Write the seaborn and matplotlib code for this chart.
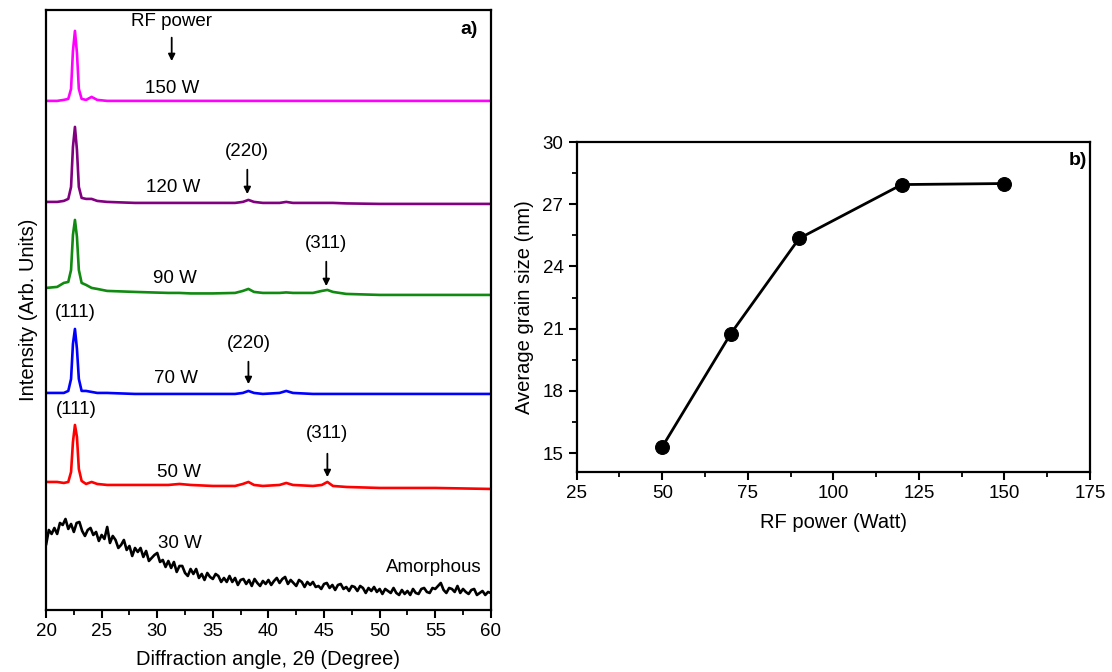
import numpy as np
import pandas as pd
import seaborn as sns
import matplotlib.pyplot as plt

# ---- panel a: XRD patterns (arb. units) ----
two_theta = [20, 21, 21.6, 22.0, 22.25, 22.42, 22.6, 22.78, 22.95, 23.2, 23.6, 24.1, 24.6,
             25.5, 28, 31, 32, 33, 35, 37, 37.7, 38.2, 38.7, 39.5, 41, 41.6, 42.2, 44,
             44.8, 45.3, 45.8, 47, 50, 55, 60]

int_150 = [0, 0, 1, 2, 12, 50, 70, 48, 12, 2, 1, 4, 1,
           0, 0, 0, 0, 0, 0, 0, 0, 0, 0, 0, 0, 0, 0, 0,
           0, 0, 0, 0, 0, 0, 0]
int_120 = [0, 0, 1, 3, 15, 55, 75, 52, 15, 4, 3, 3, 1,
           0, -1, -1, -1, -1, -1, -1, 0, 2, 0, -1, -1, 0, -1, -1,
           -1, -1, -1, -1.5, -2, -2, -2]
int_90 = [7, 8, 12, 13, 25, 60, 75, 58, 25, 12, 10, 7, 6,
          4, 3, 2, 2, 1.5, 1.5, 2, 4, 6, 3, 2, 2, 2.5, 2, 2,
          4, 5, 3, 1, 0, 0, 0]
int_70 = [1, 1, 1, 3, 15, 50, 65, 45, 15, 3, 3, 2, 1,
          1, 0, 0, 0, 0, 0, 0, 1, 3, 1, 0, 1, 3, 1, 0,
          0, 0, 0, 0, 0, 0, 0]
int_50 = [5, 5, 4, 5, 15, 45, 62, 50, 18, 6, 3, 5, 3,
          2, 2, 2, 3, 2, 1, 1, 3, 5, 2, 1, 2, 4, 2, 1,
          2, 5, 1, 0, -1, -1, -2]

# 30 W amorphous pattern, read every 0.25 degree from 20 to 60
two_theta_30 = [20 + 0.25 * i for i in range(161)]
int_30 = [63, 78, 74, 80, 74, 85, 83, 89, 79, 84, 76, 85, 86, 77, 72, 78,
          80, 73, 76, 67, 73, 69, 81, 65, 72, 68, 60, 63, 68, 58, 62, 52,
          60, 56, 60, 51, 57, 47, 50, 53, 55, 46, 48, 41, 47, 40, 46, 36,
          42, 42, 35, 32, 39, 34, 39, 30, 34, 28, 35, 31, 29, 34, 32, 26,
          30, 26, 32, 26, 30, 23, 28, 29, 24, 28, 22, 29, 25, 22, 27, 24,
          28, 23, 27, 30, 25, 29, 31, 24, 28, 25, 22, 28, 26, 21, 26, 23,
          26, 21, 22, 19, 24, 25, 20, 23, 18, 23, 24, 19, 21, 17, 22, 21,
          17, 22, 20, 15, 20, 17, 21, 16, 19, 14, 19, 17, 15, 20, 15, 13,
          18, 14, 17, 13, 19, 15, 14, 19, 20, 16, 15, 20, 19, 22, 25, 18,
          15, 20, 19, 16, 22, 15, 19, 16, 14, 18, 19, 13, 15, 17, 13, 16,
          15]

labels = ["150 W", "120 W", "90 W", "70 W", "50 W"]
colors = ["#ff00ff", "#800080", "#108a10", "#0000ff", "#ff0000"]
offsets = [507, 406, 313, 214, 121]

# ---- panel b: grain size ----
rf_power = [50, 70, 90, 120, 150]
grain_size = [15.3, 20.75, 25.35, 27.95, 28.0]

sns.set_style("ticks")
plt.rcParams["font.family"] = ["Liberation Sans", "DejaVu Sans"]
plt.rcParams["font.size"] = 13.5
plt.rcParams["text.color"] = "black"
plt.rcParams["axes.labelcolor"] = "black"
plt.rcParams["xtick.color"] = "black"
plt.rcParams["ytick.color"] = "black"

fig = plt.figure(figsize=(11.12, 6.72), dpi=100)
ax1 = fig.add_axes([0.0414, 0.0923, 0.400, 0.893])
ax2 = fig.add_axes([0.5186, 0.298, 0.4616, 0.4906])

# panel a
series = [int_150, int_120, int_90, int_70, int_50]
for vals, lab, col, off in zip(series, labels, colors, offsets):
    df = pd.DataFrame({"x": two_theta, "y": np.array(vals) + off})
    sns.lineplot(data=df, x="x", y="y", ax=ax1, color=col, lw=1.9,
                 sort=False, estimator=None)
df30 = pd.DataFrame({"x": two_theta_30, "y": int_30})
sns.lineplot(data=df30, x="x", y="y", ax=ax1, color="black", lw=1.9,
             sort=False, estimator=None)

ax1.set_xlim(20, 60)
ax1.set_ylim(-2, 598)
ax1.set_xticks(range(20, 61, 5))
ax1.set_xticks(np.arange(22.5, 60, 5), minor=True)
ax1.set_yticks([])
ax1.set_xlabel("Diffraction angle, 2θ (Degree)", fontsize=14.5, labelpad=7)
ax1.set_ylabel("Intensity (Arb. Units)", fontsize=14.5, labelpad=6)

txt = dict(ha="center", va="center", fontsize=13.5)
arrow = dict(arrowstyle="-|>", color="black", lw=1.3, mutation_scale=10)
ax1.text(31.3, 586, "RF power", **txt)
ax1.annotate("", xy=(31.3, 544), xytext=(31.3, 573), arrowprops=arrow)
ax1.text(58.0, 578, "a)", ha="center", va="center", fontsize=14, fontweight="bold")
ax1.text(31.3, 519, "150 W", **txt)
ax1.text(38.1, 456, "(220)", **txt)
ax1.annotate("", xy=(38.1, 411), xytext=(38.1, 441), arrowprops=arrow)
ax1.text(31.4, 420, "120 W", **txt)
ax1.text(45.2, 364, "(311)", **txt)
ax1.annotate("", xy=(45.2, 319), xytext=(45.2, 349), arrowprops=arrow)
ax1.text(31.6, 329, "90 W", **txt)
ax1.text(22.6, 295, "(111)", **txt)
ax1.text(38.2, 264, "(220)", **txt)
ax1.annotate("", xy=(38.2, 221), xytext=(38.2, 249), arrowprops=arrow)
ax1.text(31.7, 229, "70 W", **txt)
ax1.text(22.7, 198, "(111)", **txt)
ax1.text(45.3, 174, "(311)", **txt)
ax1.annotate("", xy=(45.3, 128), xytext=(45.3, 157), arrowprops=arrow)
ax1.text(32.0, 135, "50 W", **txt)
ax1.text(32.0, 64, "30 W", **txt)
ax1.text(54.9, 40, "Amorphous", **txt)

# panel b
dfb = pd.DataFrame({"power": rf_power, "size": grain_size})
sns.lineplot(data=dfb, x="power", y="size", ax=ax2, color="black", lw=2,
             marker="o", markersize=10, markeredgecolor="black")
ax2.set_xlim(25, 175)
ax2.set_ylim(14.1, 30)
ax2.set_xticks(range(25, 176, 25))
ax2.set_xticks(np.arange(37.5, 175, 25), minor=True)
ax2.set_yticks(range(15, 31, 3))
ax2.set_yticks(np.arange(16.5, 30, 3), minor=True)
ax2.set_xlabel("RF power (Watt)", fontsize=14.5, labelpad=8)
ax2.set_ylabel("Average grain size (nm)", fontsize=14.5, labelpad=6)
ax2.text(171.5, 29.1, "b)", ha="center", va="center", fontsize=14, fontweight="bold")

for ax in (ax1, ax2):
    for s in ax.spines.values():
        s.set_visible(True)
        s.set_linewidth(1.6)
        s.set_color("black")
    ax.tick_params(which="major", direction="out", length=6, width=1.5,
                   labelsize=13.5, top=False, right=False)
    ax.tick_params(which="minor", direction="out", length=3.5, width=1.3,
                   top=False, right=False)

fig.savefig("out.png", dpi=100)
